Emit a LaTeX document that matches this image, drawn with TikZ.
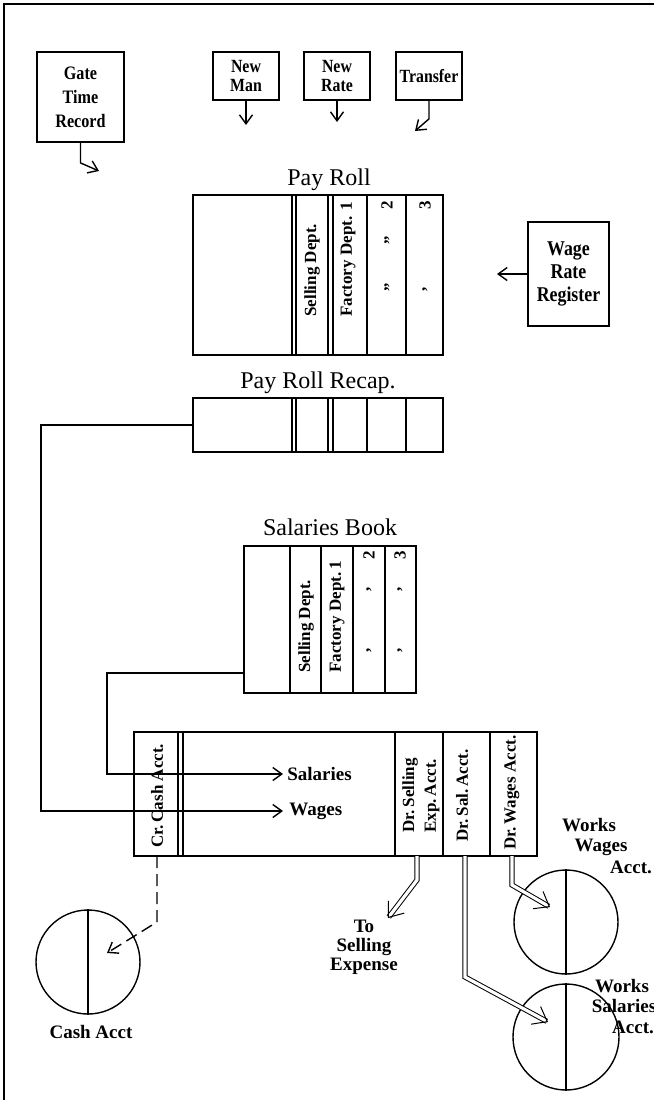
\documentclass[tikz,border=0pt]{standalone}
\usepackage{fontspec}
\setmainfont{Liberation Serif}
\newfontfamily\boxfont{Liberation Serif}[FakeStretch=0.85]
\usetikzlibrary{arrows.meta, positioning, calc}

\begin{document}
\begin{tikzpicture}[
    x=0.5pt, y=-0.5pt, >={Straight Barb[length=4.5pt,width=6.5pt]},
    box/.style={draw, line width=0.9pt, inner sep=1pt, align=center,
                font=\boxfont\bfseries\fontsize{9.3}{9.5}\selectfont},
    book/.style={draw, line width=0.9pt, inner sep=0pt},
    acct/.style={draw, circle, line width=0.7pt, minimum size=52pt, inner sep=0pt},
    head/.style={anchor=base, inner sep=0pt, font=\fontsize{12}{13}\selectfont},
    col/.style={rotate=90, anchor=west, inner sep=0pt,
                font=\bfseries\fontsize{8.5}{9}\selectfont},
    lbl/.style={inner sep=0pt, font=\bfseries\fontsize{9.5}{10}\selectfont},
    flow/.style={->, line width=0.7pt},
    dbl/.style={double, double distance=1.6pt, line width=0.5pt,
                -{Straight Barb[length=6.5pt,width=10pt]}}
  ]
  \useasboundingbox (0,0) rectangle (654,1100);
  % frame
  \draw[line width=0.9pt] (654,4) -- (4,4) -- (4,1100);

  % source documents
  \node[box, minimum width=43.5pt, minimum height=45pt,
        font=\boxfont\bfseries\fontsize{9.5}{12}\selectfont] (gate) at (80.5,97)
    {Gate\\Time\\Record};
  \node[box, minimum width=33pt, minimum height=24pt] (newman) at (246,76)
    {New\\Man};
  \node[box, minimum width=33pt, minimum height=24pt] (newrate) at (337,76)
    {New\\Rate};
  \node[box, minimum width=33pt, minimum height=24pt] (transfer) at (429,76)
    {Transfer};
  \node[box, minimum width=40.5pt, minimum height=52pt,
        font=\boxfont\bfseries\fontsize{10.5}{11.3}\selectfont] (wrr) at (568.5,274)
    {Wage\\Rate\\Register};

  \coordinate (gatetip) at (99,171);
  \coordinate (nmtip) at (246,125);
  \coordinate (nrtip) at (337,122);
  \coordinate (trtip) at (415,131);
  \coordinate (wrrtip) at (497,274);
  \draw[flow] (gate.south) -- ++(0,20) -- (gatetip);
  \draw[flow] (newman.south) -- (nmtip);
  \draw[flow] (newrate.south) -- (nrtip);
  \draw[flow] (transfer.south) -- ++(0,18) -- (trtip);
  \draw[flow] (wrr.west) -- (wrrtip);

  % pay roll
  \node[head] (prtitle) at (329,185) {Pay Roll};
  \node[book, minimum width=125pt, minimum height=80pt] (payroll) at (318,275) {};
  \foreach \x in {292,296,328,333,367,406}
    \draw[line width=0.9pt] (\x,195) -- (\x,355);
  \node[col] (prsell) at (312,317) {Selling Dept.};
  \node[col] (prfact) at (348,317) {Factory Dept. 1};
  \node[col] (prtwo) at (387,210) {2};
  \node[col] (prthree) at (425,210) {3};
  \node[col] (prdita) at (387,245) {,,};
  \node[col] (prditb) at (387,292) {,,};
  \node[col] (prditc) at (425,292) {,};

  % pay roll recap
  \node[head] (rctitle) at (318,388) {Pay Roll Recap.};
  \node[book, minimum width=125pt, minimum height=27pt] (recap) at (318,425) {};
  \foreach \x in {292,296,328,333,367,406}
    \draw[line width=0.9pt] (\x,398) -- (\x,452);

  % salaries book
  \node[head] (sbtitle) at (330,535) {Salaries Book};
  \node[book, minimum width=86pt, minimum height=73.5pt] (salbook) at (330,619.5) {};
  \foreach \x in {290,321,353,385}
    \draw[line width=0.9pt] (\x,546) -- (\x,693);
  \node[col] (sbsell) at (306,673) {Selling Dept.};
  \node[col] (sbfact) at (337,673) {Factory Dept.\,1};
  \node[col] (sbtwo) at (369,560) {2};
  \node[col] (sbthree) at (400,560) {3};
  \foreach \x/\y in {369/592, 369/653, 400/592, 400/653}
    \node[col] at (\x,\y) {,};

  % journal
  \node[book, minimum width=201.5pt, minimum height=62pt] (ledger) at (335.5,794) {};
  \foreach \x in {178,183,395,443,490}
    \draw[line width=0.9pt] (\x,732) -- (\x,856);
  \node[col] (crcash) at (157,848) {Cr.\,Cash Acct.};
  \node[col] (drsell) at (410,833) {Dr.\,Selling};
  \node[col] (drexp) at (432,833) {Exp.\,Acct.};
  \node[col] (drsal) at (462,842) {Dr.\,Sal.\,Acct.};
  \node[col] (drwag) at (512,850) {Dr.\,Wages Acct.};

  \node[lbl, anchor=west] (salaries) at (287,774) {Salaries};
  \node[lbl, anchor=west] (wages) at (289,811) {Wages};
  \draw[flow] ($(salbook.south west)+(0,-21)$) -- ++(-136,0) |- ($(salaries.west)+(-4,0)$);
  \draw[flow] (recap.west) -- ++(-151,0) |- ($(wages.west)+(-6,0)$);

  % accounts
  \node[acct] (cash) at (88,962) {};
  \draw[line width=0.7pt] (cash.north) -- (cash.south);
  \node[lbl] (cashlbl) at (91,1032) {Cash Acct};

  \node[acct] (wwage) at (566,922) {};
  \draw[line width=0.7pt] (wwage.north) -- (wwage.south);
  \node[lbl] (wwa) at (589,825) {Works};
  \node[lbl] (wwb) at (601,847) {Wages};
  \node[lbl] (wwc) at (631,867) {Acct.};

  \node[acct, minimum size=53pt] (wsal) at (566,1037) {};
  \draw[line width=0.7pt] (wsal.north) -- (wsal.south);
  \node[lbl] (wsa) at (622,986) {Works};
  \node[lbl] (wsb) at (624,1006) {Salaries};
  \node[lbl] (wsc) at (633,1027) {Acct.};

  \node[lbl, align=center, font=\bfseries\fontsize{9.5}{9.5}\selectfont]
    (tosell) at (364,947) {To\\Selling\\Expense};

  % postings
  \coordinate (cashout) at (157,856);
  \coordinate (cashtip) at (107,953);
  \coordinate (selout) at (417,856);
  \coordinate (seltip) at (388,918);
  \coordinate (salout) at (465,856);
  \coordinate (saltip) at (548,1022);
  \coordinate (wagout) at (512,856);
  \coordinate (wagtip) at (550,907);
  \draw[flow, dashed, dash pattern=on 6pt off 3pt] (cashout) -- ++(0,66) -- (cashtip);
  \draw[dbl] (selout) -- ++(0,24) -- (seltip);
  \draw[dbl] (salout) -- ++(0,121) -- (saltip);
  \draw[dbl] (wagout) -- ++(0,29) -- (wagtip);
\end{tikzpicture}
\end{document}
